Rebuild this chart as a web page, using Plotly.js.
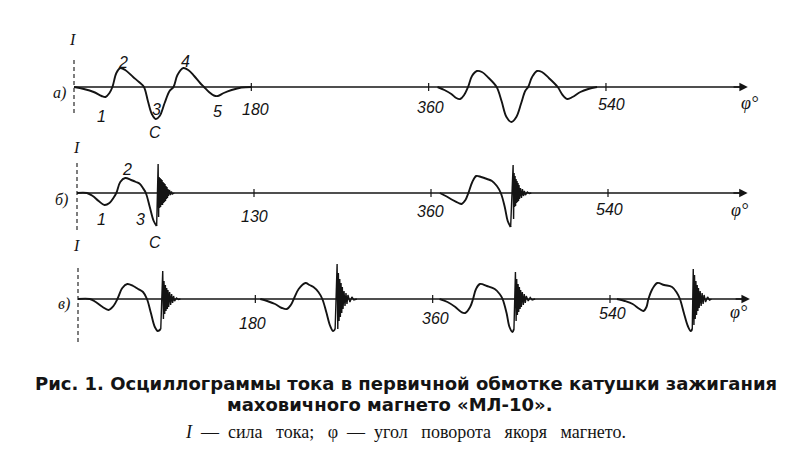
<!DOCTYPE html>
<html>
<head>
<meta charset="utf-8">
<script src="https://cdn.plot.ly/plotly-3.0.1.min.js"></script>
<style>html,body{margin:0;padding:0;background:#fff;}#chart{width:800px;height:465px;}</style>
</head>
<body>
<div id="chart"></div>
<script>
// ---------- DATA (angle of armature rotation, degrees ; current, arbitrary units) ----------
// Row а)
var aEv1X = [0, 10, 20, 28, 32, 36, 39, 43, 47, 52, 60, 66, 71, 75, 79, 83, 87, 92, 97, 101, 105, 111, 116, 122, 128, 132, 137, 142, 146, 152, 160, 170, 180];
var aEv1Y = [0, -2, -5, -9, -10, -6, 0, 14, 19, 17, 10, 5, 0, -14, -27, -32, -29, -16, -4, 0, 12, 19, 17, 11, 4, 0, -5, -8.5, -9, -6, -3, -0.5, 0];
var aEv2X = [369, 376, 383, 388, 392, 396, 400, 404, 409, 414, 421, 429, 434, 439, 444, 449, 454, 458, 461, 465, 470, 475, 482, 491, 496, 501, 506, 514, 522, 531];
var aEv2Y = [0, -3, -7, -11, -12, -8, 0, 11, 16, 15, 9, 0, -14, -30, -35, -30, -16, -4, 0, 10, 16, 15, 9, 0, -8, -12, -10, -5, -2, 0];
// Row б)
var bEv1X = [0, 10, 16, 22, 28, 33, 37, 40, 44, 49, 55, 60, 64, 67, 70, 74, 78, 81];
var bEv1Y = [0, 0, -3, -8, -12, -10, -5, 0, 11, 15, 13, 11, 9, 5, 0, -14, -28, -33];
var bBu1X = [81, 82.5, 83, 83.5, 84, 84.5, 85, 85.5, 86, 86.5, 87, 87.5, 88, 88.5, 89, 89.5, 90, 90.5, 91, 91.5, 92, 92.5, 93, 94, 95, 96, 97, 99];
var bBu1Y = [-33, 29, -24, 16, -15, 15, -14, 14, -12, 13, -12, 11, -10, 10, -9, 9, -8, 7, -6, 6, -5, 4, -3, 3, -2, 1.5, -1, 0];
var bEv2X = [369, 375, 382, 388, 391, 395, 398, 402, 406, 411, 417, 422, 427, 431, 435, 438, 441];
var bEv2Y = [0, -3, -7, -10, -11, -7, 0, 11, 17, 16, 14, 12, 7, 0, -14, -28, -34];
var bBu2X = [441, 443.5, 444, 444.5, 445, 445.5, 446, 446.5, 447, 447.5, 448, 448.5, 449, 449.5, 450, 451, 452, 453, 454, 455, 456, 458, 460, 462];
var bBu2Y = [-34, 28, -26, 20, -14, 17, -13, 14, -10, 12, -9, 10, -8, 8, -6, 5, -5, 4, -3, 2, -2, 1, -0.5, 0];
// Row в)
var cEv1X = [0, 12, 18, 25, 31, 36, 40, 45, 50, 56, 61, 66, 70, 74, 78, 81, 84];
var cEv1Y = [0, 0, -3, -8, -11, -7, 0, 11, 15, 13, 10, 7, 0, -14, -28, -32, -30];
var cBu1X = [84, 86, 86.7, 87.3, 88, 88.7, 89.3, 90, 90.7, 91.3, 92, 93, 94, 95, 96, 97, 98, 100, 102, 104];
var cBu1Y = [-30, 28, -20, 18, -15, 14, -12, 11, -10, 9, -8, 7, -6, 5, -4, 3, -2, 1, -0.5, 0];
var cEv2X = [185, 192, 200, 207, 212, 216, 219, 224, 231, 235, 239, 244, 248, 252, 256, 259, 261];
var cEv2Y = [0, -2, -5, -9, -10, -6, 0, 10, 16, 14, 12, 7, 0, -13, -27, -32, -30];
var cBu2X = [261, 263, 263.7, 264.3, 265, 265.7, 266.3, 267, 267.7, 268.3, 269, 270, 271, 272, 273, 274, 276, 278, 280, 283];
var cBu2Y = [-30, 35, -30, 26, -22, 20, -18, 16, -14, 12, -10, 8, -7, 6, -5, 4, -3, 2, -1, 0];
var cEv3X = [367, 375, 383, 389, 393, 398, 401, 404, 408, 415, 423, 428, 431, 435, 438, 441, 442.5];
var cEv3Y = [0, -3, -8, -13, -14, -8, 0, 10, 15, 13, 10, 5, 0, -14, -28, -33, -30];
var cBu3X = [442.5, 444, 444.7, 445.3, 446, 446.7, 447.3, 448, 448.7, 449.3, 450, 451, 452, 453, 454, 455, 457, 459, 461, 464];
var cBu3Y = [-30, 27, -22, 20, -16, 15, -13, 12, -10, 9, -8, 7, -6, 5, -4, 3, -2, 1.5, -1, 0];
var cEv4X = [547, 555, 563, 570, 574, 577, 579, 583, 588, 595, 603, 608, 611, 615, 619, 622, 623.5];
var cEv4Y = [0, -2, -5, -10, -12, -8, 0, 10, 16, 14, 12, 6, 0, -14, -27, -32, -30];
var cBu4X = [623.5, 624.5, 625.2, 625.8, 626.5, 627.2, 627.8, 628.5, 629.2, 629.8, 630.5, 631.5, 632.5, 633.5, 634.5, 635.5, 637, 639, 641, 643];
var cBu4Y = [-30, 30, -26, 24, -20, 18, -16, 14, -12, 11, -9, 8, -7, 6, -5, 4, -3, 2, -1, 0];

// tick positions (degrees) and their printed labels per row
var tickVals = [180, 360, 540];
var tickTextA = ["180", "360", "540"];
var tickTextB = ["130", "360", "540"];
var tickTextC = ["180", "360", "540"];
var rowLabels = ["а)", "б)", "в)"];
var axisEnd = [684, 682, 682];

var captionLine1 = "Рис. 1. Осциллограммы тока в первичной обмотке катушки зажигания";
var captionLine2 = "маховичного магнето «МЛ-10».";
var captionLine3 = "<i>I</i>\u00A0 —\u00A0 сила\u00A0\u00A0 тока;\u00A0\u00A0 φ\u00A0 —\u00A0 угол\u00A0\u00A0 поворота\u00A0\u00A0 якоря\u00A0\u00A0 магнето.";

// ---------- TRACES ----------
var INK = "#141414";
var traces = [];
function smooth(xs, ys, n) {
  traces.push({x: xs, y: ys, xaxis: "x" + (n > 1 ? n : ""), yaxis: "y" + (n > 1 ? n : ""),
    mode: "lines", hoverinfo: "skip", line: {color: INK, width: 1.9, shape: "spline", smoothing: 1}});
}
function burst(xs, ys, n) {
  traces.push({x: xs, y: ys, xaxis: "x" + (n > 1 ? n : ""), yaxis: "y" + (n > 1 ? n : ""),
    mode: "lines", hoverinfo: "skip", line: {color: INK, width: 1.4}});
}
smooth(aEv1X, aEv1Y, 1); smooth(aEv2X, aEv2Y, 1);
smooth(bEv1X, bEv1Y, 2); burst(bBu1X, bBu1Y, 2);
smooth(bEv2X, bEv2Y, 2); burst(bBu2X, bBu2Y, 2);
smooth(cEv1X, cEv1Y, 3); burst(cBu1X, cBu1Y, 3);
smooth(cEv2X, cEv2Y, 3); burst(cBu2X, cBu2Y, 3);
smooth(cEv3X, cEv3Y, 3); burst(cBu3X, cBu3Y, 3);
smooth(cEv4X, cEv4Y, 3); burst(cBu4X, cBu4Y, 3);

// ---------- SHAPES & ANNOTATIONS ----------
var shapes = [], ann = [];
var dashSpan = [[-26, 30], [-37, 31], [-43, 32]];
var tickTexts = [tickTextA, tickTextB, tickTextC];
var tickLab = [
  [[184.7, -23], [361.4, -21], [546.1, -18]],
  [[181.0, -24], [359.0, -19], [542.0, -17]],
  [[177.6, -24], [362.4, -19], [543.0, -14]]
];
var phiPos = [[686, -16], [674, -17], [670, -13]];
var iPos = [[-2, 47], [-1, 45], [-2, 54]];
var rowLabPos = [[-15.2, -6], [-15.3, -7], [-14.2, -5]];
var numFont = {family: "Liberation Sans, Arial, sans-serif", size: 16, color: INK};
var serifIt = {family: "Liberation Serif, Times New Roman, serif", size: 18, color: INK};

for (var r = 0; r < 3; r++) {
  var xr = "x" + (r ? r + 1 : ""), yr = "y" + (r ? r + 1 : "");
  shapes.push({type: "line", xref: xr, yref: yr, x0: 0, x1: axisEnd[r] - 4, y0: 0, y1: 0, line: {color: INK, width: 1.3}});
  shapes.push({type: "line", xref: xr, yref: yr, x0: 0, x1: 0, y0: dashSpan[r][0], y1: dashSpan[r][1], line: {color: INK, width: 1.1, dash: "4px,3px"}});
  for (var t = 0; t < tickVals.length; t++) {
    shapes.push({type: "line", xref: xr, yref: yr, x0: tickVals[t], x1: tickVals[t], y0: -4, y1: 4, line: {color: INK, width: 1.2}});
    ann.push({xref: xr, yref: yr, x: tickLab[r][t][0], y: tickLab[r][t][1], text: "<i>" + tickTexts[r][t] + "</i>",
      showarrow: false, font: numFont, xanchor: "center", yanchor: "middle"});
  }
  ann.push({xref: xr, yref: yr, x: axisEnd[r], y: 0, ax: axisEnd[r] - 16, ay: 0, axref: xr, ayref: yr,
    text: "", showarrow: true, arrowhead: 2, arrowsize: 1.3, arrowwidth: 1.3, arrowcolor: INK, standoff: 0});
  ann.push({xref: xr, yref: yr, x: phiPos[r][0], y: phiPos[r][1], text: "<i>φ°</i>", showarrow: false, font: serifIt});
  ann.push({xref: xr, yref: yr, x: iPos[r][0], y: iPos[r][1], text: "<i>I</i>", showarrow: false,
    font: {family: "Liberation Serif, serif", size: 16, color: INK}});
  ann.push({xref: xr, yref: yr, x: rowLabPos[r][0], y: rowLabPos[r][1], text: "<i>" + rowLabels[r] + "</i>", showarrow: false,
    font: {family: "Liberation Serif, serif", size: 16, color: INK}});
}
// numbered points
var ptLabels = [
  ["x", "y", 28.4, -30, "1"], ["x", "y", 49.7, 24, "2"], ["x", "y", 84.2, -23, "3"], ["x", "y", 82.2, -46, "С"],
  ["x", "y", 112.7, 25, "4"], ["x", "y", 145.2, -25, "5"],
  ["x2", "y2", 25.4, -27, "1"], ["x2", "y2", 50.8, 23, "2"], ["x2", "y2", 64.1, -27, "3"], ["x2", "y2", 79.3, -50, "С"]
];
ptLabels.forEach(function (p) {
  ann.push({xref: p[0], yref: p[1], x: p[2], y: p[3], text: "<i>" + p[4] + "</i>", showarrow: false, font: numFont});
});
// caption
ann.push({xref: "paper", yref: "paper", x: 406 / 800, y: (465 - 383) / 465, text: "<b>" + captionLine1 + "</b>", showarrow: false,
  xanchor: "center", yanchor: "middle", font: {family: "DejaVu Sans, sans-serif", size: 18, color: INK}});
ann.push({xref: "paper", yref: "paper", x: 390 / 800, y: (465 - 404) / 465, text: "<b>" + captionLine2 + "</b>", showarrow: false,
  xanchor: "center", yanchor: "middle", font: {family: "DejaVu Sans, sans-serif", size: 18, color: INK}});
ann.push({xref: "paper", yref: "paper", x: 405 / 800, y: (465 - 432) / 465, text: captionLine3, showarrow: false,
  xanchor: "center", yanchor: "middle", font: {family: "Liberation Serif, serif", size: 18, color: INK}});

var hid = {visible: false, showgrid: false, zeroline: false, fixedrange: true};
function ax(o) { return Object.assign({}, hid, o); }
var xd = [40 / 800, 770 / 800];
var layout = {
  width: 800, height: 465, margin: {l: 0, r: 0, t: 0, b: 0},
  paper_bgcolor: "#fff", plot_bgcolor: "#fff", showlegend: false,
  xaxis: ax({domain: xd, range: [-34.51, 706.5], anchor: "y"}),
  xaxis2: ax({domain: xd, range: [-37.63, 704.75], anchor: "y2"}),
  xaxis3: ax({domain: xd, range: [-38.57, 702.4], anchor: "y3"}),
  yaxis: ax({domain: [0.69892, 0.94624], range: [-53, 62], anchor: "x"}),
  yaxis2: ax({domain: [0.46237, 0.71828], range: [-57, 62], anchor: "x2"}),
  yaxis3: ax({domain: [0.24731, 0.49032], range: [-51, 62], anchor: "x3"}),
  shapes: shapes, annotations: ann
};
Plotly.newPlot("chart", traces, layout, {staticPlot: true, displayModeBar: false});
</script>
</body>
</html>
